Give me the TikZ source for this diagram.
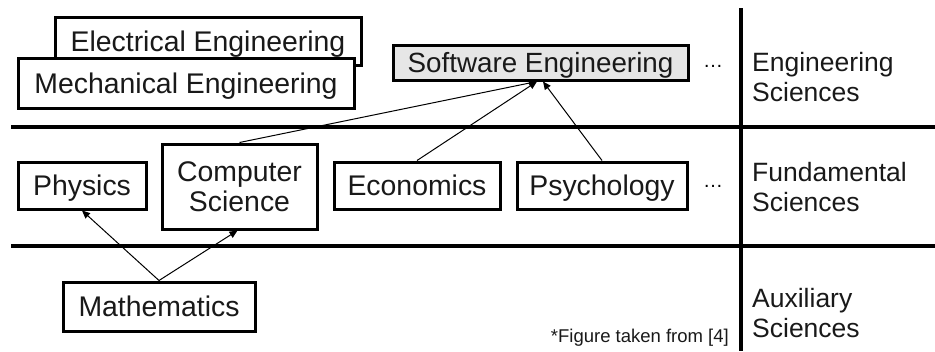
\documentclass[tikz,border=0pt]{standalone}
\usepackage{fontspec}
\setmainfont{Liberation Sans}
\usetikzlibrary{arrows.meta}
\definecolor{segray}{HTML}{E6E6E6}
\tikzset{
  box/.style={draw=black, line width=3pt, fill=white, inner sep=0pt, font=\fontsize{28.4}{30}\selectfont, text=black!90},
  one/.style={text height=20.4pt, text depth=0pt},
  sep/.style={line width=4pt},
  arr/.style={line width=1pt, -{Triangle[length=8pt,width=7pt]}},
  lab/.style={align=left, anchor=west, inner sep=0pt, font=\fontsize{26.5}{30}\selectfont, text=black!90},
  dotsl/.style={inner sep=0pt, font=\fontsize{20}{22}\selectfont},
}
\begin{document}
\begin{tikzpicture}[x=1pt,y=-1pt]
\useasboundingbox (0,0) rectangle (935,351);
% separators
\draw[sep] (11,127) -- (935,127);
\draw[sep] (11,246) -- (935,246);
\draw[line width=3.5pt] (741,8) -- (741,351);
% engineering boxes
\node[box, one, minimum width=306pt, minimum height=48pt] (ee) at (208,41) {Electrical Engineering};
\node[box, one, minimum width=336pt, minimum height=50pt] (me) at (186,83) {Mechanical Engineering};
\node[box, one, fill=segray, minimum width=295pt, minimum height=35pt, font=\fontsize{27.8}{30}\selectfont] (se) at (540.5,62.5) {Software Engineering};
% fundamental boxes
\node[box, one, minimum width=128pt, minimum height=47pt] (ph) at (82,185.5) {Physics};
\node[box, minimum width=155pt, minimum height=85pt, align=center] (cs) at (239.5,186.5) {Computer\\Science};
\node[box, one, minimum width=166pt, minimum height=47pt] (ec) at (417,185.5) {Economics};
\node[box, one, minimum width=170pt, minimum height=47pt] (ps) at (602,185.5) {Psychology};
% auxiliary
\node[box, one, minimum width=192pt, minimum height=49pt] (ma) at (159,306.5) {Mathematics};
% dots
\node[dotsl] (d1) at (713,66) {\dots};
\node[dotsl] (d2) at (713,186) {\dots};
% right labels
\node[lab] (l1) at (752,77) {Engineering\\Sciences};
\node[lab] (l2) at (752,187.5) {Fundamental\\Sciences};
\node[lab] (l3) at (752,313.5) {Auxiliary\\Sciences};
% footnote
\node[anchor=east, inner sep=0pt, font=\fontsize{18.5}{20}\selectfont, text=black!90] (fn) at (729,338) {*Figure taken from [4]};
% arrows
\draw[arr] (ma.north) -- (ph.south);
\draw[arr] (ma.north) -- ([xshift=-2pt]cs.south);
\draw[arr] (cs.north) -- ([xshift=-3.5pt]se.south);
\draw[arr] (ec.north) -- ([xshift=-3.5pt]se.south);
\draw[arr] (ps.north) -- ([xshift=2.5pt]se.south);
\end{tikzpicture}
\end{document}
